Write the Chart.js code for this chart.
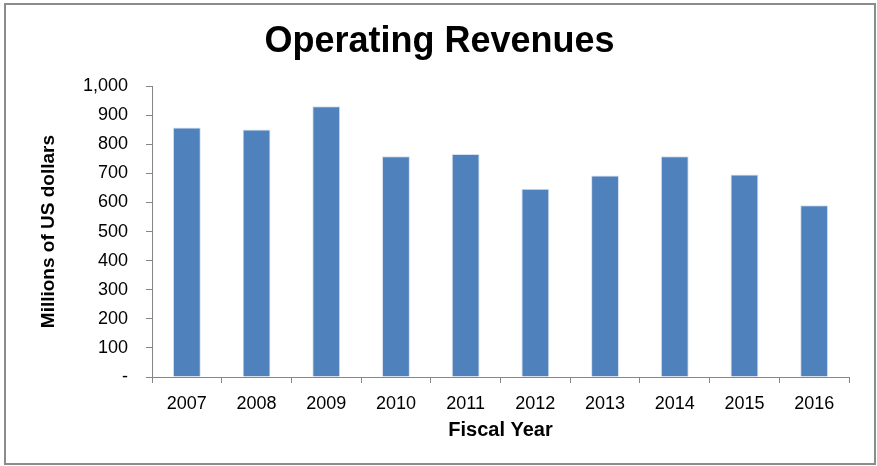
<!DOCTYPE html>
<html>
<head>
<meta charset="utf-8">
<script src="https://cdn.jsdelivr.net/npm/chart.js@4"></script>
<style>
  body { margin: 0; background: #fff; }
  #wrap { position: relative; width: 877px; height: 466px; }
  #frame { position: absolute; left: 4px; top: 3px; width: 868px; height: 458px; border: 2px solid #8c8c8c; box-sizing: content-box; pointer-events: none; }
  canvas { position: absolute; left: 0; top: 0; }
</style>
</head>
<body>
<div id="wrap">
  <canvas id="revenueChart" width="877" height="466"></canvas>
  <div id="frame"></div>
</div>
<script>
// Operating revenues, millions of US dollars
var years = ['2007', '2008', '2009', '2010', '2011', '2012', '2013', '2014', '2015', '2016'];
var revenues = [858, 851, 931, 759, 767, 647, 693, 759, 696, 591];

var axisGray = '#868686';
var fontName = "'Liberation Sans', Arial, sans-serif";

var ctx = document.getElementById('revenueChart');

var config = {
    type: 'bar',
    data: {
        labels: years,
        datasets: [
            {
                label: 'Operating Revenues',
                data: revenues,
                backgroundColor: '#4f81bd',
                borderColor: '#d6e0ee',
                borderWidth: { top: 1, left: 1, right: 1, bottom: 0 },
                barPercentage: 0.4,
                categoryPercentage: 1.0
            }
        ]
    },
    options: {
        responsive: false,
        animation: false,
        layout: {
            padding: { left: 30, right: 28, top: 20, bottom: 20 }
        },
        plugins: {
            legend: { display: false },
            tooltip: { enabled: false },
            title: {
                display: true,
                text: 'Operating Revenues',
                color: '#000',
                font: { family: fontName, size: 36, weight: 'bold' },
                padding: { top: 0, bottom: 23 }
            }
        },
        scales: {
            x: {
                afterFit: function (scale) { scale.height = 69; },
                grid: {
                    display: true,
                    offset: true,
                    drawOnChartArea: false,
                    drawTicks: true,
                    tickLength: 6,
                    color: axisGray
                },
                border: { color: axisGray, width: 1 },
                ticks: {
                    color: '#000',
                    font: { family: fontName, size: 18 },
                    padding: 10,
                    maxRotation: 0
                },
                title: {
                    display: true,
                    text: 'Fiscal Year',
                    color: '#000',
                    font: { family: fontName, size: 20, weight: 'bold' },
                    padding: { top: 0, bottom: 4 }
                }
            },
            y: {
                min: 0,
                max: 1000,
                afterFit: function (scale) { scale.width = 122; },
                grid: {
                    display: true,
                    drawOnChartArea: false,
                    drawTicks: true,
                    tickLength: 6,
                    color: axisGray
                },
                border: { color: axisGray, width: 1 },
                ticks: {
                    stepSize: 100,
                    color: '#000',
                    font: { family: fontName, size: 18 },
                    padding: 18,
                    callback: function (value) {
                        if (value === 0) return '-';
                        return value.toLocaleString('en-US');
                    }
                },
                title: {
                    display: true,
                    text: 'Millions of US dollars',
                    color: '#000',
                    font: { family: fontName, size: 19, weight: 'bold' },
                    padding: { top: 7, bottom: 0 }
                }
            }
        }
    }
};

new Chart(ctx, config);
</script>
</body>
</html>
